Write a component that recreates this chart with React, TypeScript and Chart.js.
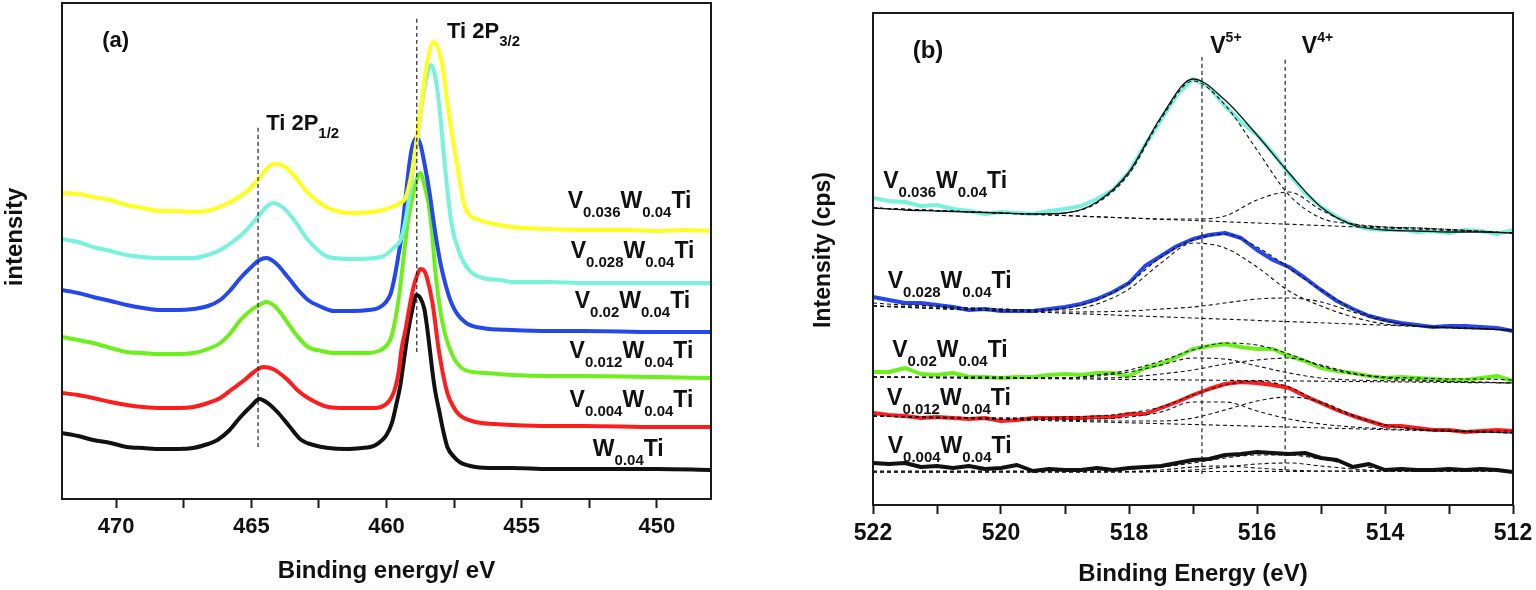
import React, { useEffect, useRef } from 'react';
import { Chart, registerables } from 'chart.js';
Chart.register(...registerables);

const FONT = 'Arial, "Liberation Sans", Helvetica, sans-serif';
const INK = '#111111';

const YELLOW = '#ffff1e';
const CYAN = '#78f2dc';
const BLUE = '#2547ee';
const GREEN = '#6cf01c';
const RED = '#ff1c1c';
const BLACK = '#111111';

// ---------------- Panel (a): Ti 2p ----------------
const yellowAE = [472, 471.4, 470.85, 470.2, 469.6, 469.0, 468.35, 467.7, 467.15, 466.5, 465.85, 465.4, 465.1, 464.7, 464.4, 464.15, 463.8, 463.5, 462.9, 462.15, 461.3, 460.3, 459.8, 459.5, 459.3, 459.05, 458.75, 458.5, 458.25, 457.95, 457.7, 457.4, 457.1, 456.55, 456.0, 455.35, 454.0, 452.7, 451.0, 450, 449, 448];
const yellowAI = [306, 305, 302, 299, 294, 291, 288, 288, 287, 289, 296, 303, 309, 321, 331, 335, 333, 326, 306, 291, 286, 288, 292, 296, 301, 329, 386, 436, 457, 436, 386, 336, 292, 279, 275, 272, 270, 269, 269, 268, 269, 268];

const cyanAE = [472, 471.4, 470.85, 470.2, 469.6, 469.0, 468.35, 467.7, 467.15, 466.5, 466.15, 465.7, 465.25, 464.7, 464.45, 464.2, 463.85, 463.5, 462.9, 462.5, 462.15, 461.2, 460.2, 459.7, 459.5, 459.35, 459.2, 459.05, 458.75, 458.55, 458.35, 458.1, 457.85, 457.6, 457.3, 456.95, 456.45, 455.8, 455.35, 454, 452.7, 451, 450, 448];
const cyanAI = [260, 257, 252, 248, 244, 242, 241, 241, 241, 245, 249, 257, 267, 284, 292, 296, 292, 282, 259, 248, 242, 240, 242, 252, 258, 272, 295, 324, 384, 419, 434, 405, 336, 276, 246, 229, 221, 219, 217, 217, 216, 216, 216, 216];

const blueAE = [472, 471.4, 470.85, 470.2, 469.6, 469.0, 468.35, 467.7, 467.15, 466.6, 466.15, 465.8, 465.4, 465.0, 464.7, 464.45, 464.1, 463.65, 463.3, 462.9, 462.4, 461.95, 461.3, 460.65, 460.3, 460.05, 459.85, 459.7, 459.55, 459.45, 459.3, 459.15, 459.05, 458.9, 458.75, 458.6, 458.4, 458.25, 458.1, 457.95, 457.6, 457.1, 456.45, 455.35, 454, 452.7, 450, 448];
const blueAI = [209, 206, 202, 198, 194, 191, 189, 189, 190, 193, 199, 208, 221, 232, 239, 241, 236, 222, 210, 199, 192, 188, 188, 189, 191, 196, 205, 222, 245, 262, 300, 336, 352, 361, 355, 336, 305, 276, 250, 229, 196, 177, 171, 169, 168, 168, 167, 167];

const greenAE = [472, 471.4, 470.85, 470.2, 469.6, 469.0, 468.35, 467.7, 467.15, 466.6, 466.15, 465.8, 465.4, 465.0, 464.7, 464.45, 464.1, 463.65, 463.3, 462.9, 462.4, 461.95, 461.3, 460.65, 460.3, 460.05, 459.85, 459.7, 459.55, 459.45, 459.35, 459.2, 459.05, 458.9, 458.75, 458.6, 458.45, 458.3, 458.2, 457.95, 457.6, 457.1, 456.35, 455.35, 454, 452.7, 450, 448];
const greenAI = [162, 159, 156, 151, 147, 146, 145, 145, 146, 150, 156, 165, 179, 189, 194, 197, 192, 176, 163, 152, 148, 146, 146, 146, 148, 152, 160, 176, 200, 222, 246, 279, 300, 318, 326, 314, 296, 262, 229, 179, 146, 129, 126, 124, 123, 123, 122, 121];

const redAE = [472, 471.4, 470.85, 470.2, 469.6, 469.0, 468.35, 467.7, 467.15, 466.6, 466.15, 465.7, 465.25, 464.9, 464.55, 464.2, 463.65, 463.3, 462.9, 462.15, 461.5, 460.9, 460.5, 460.2, 459.9, 459.7, 459.55, 459.45, 459.3, 459.15, 459.0, 458.85, 458.75, 458.6, 458.5, 458.3, 458.05, 457.75, 457.5, 457.3, 456.7, 456, 455.35, 454, 452.7, 450, 448];
const redAI = [106, 104, 101, 97, 94, 92, 91, 91, 92, 96, 101, 110, 119, 127, 132, 130, 119, 109, 101, 92, 91, 91, 91, 92, 98, 109, 127, 149, 169, 192, 212, 225, 230, 228, 221, 196, 146, 106, 91, 84, 77, 75, 74, 73, 73, 72, 72];

const blackAE = [472, 471.4, 470.85, 470.2, 469.6, 469.0, 468.35, 467.7, 467.15, 466.6, 466.25, 465.8, 465.4, 465.0, 464.7, 464.35, 464.0, 463.6, 463.15, 462.7, 462.15, 461.5, 460.9, 460.6, 460.4, 460.2, 460.0, 459.8, 459.65, 459.5, 459.35, 459.2, 459.05, 458.9, 458.75, 458.6, 458.5, 458.4, 458.3, 458.2, 458.05, 457.9, 457.75, 457.5, 457.3, 456.7, 456, 455.35, 454, 452.7, 450, 448];
const blackAI = [66, 63, 59, 56, 52, 51, 50, 50, 51, 55, 59, 69, 82, 93, 100, 95, 86, 73, 59, 54, 51, 50, 51, 52, 54, 58, 64, 76, 93, 112, 140, 168, 189, 204, 201, 190, 172, 150, 127, 108, 88, 68, 52, 42, 37, 32, 31, 31, 30, 30, 30, 29];

const ti12LineE = [464.75, 464.75];
const ti12LineI = [52, 374];
const ti32LineE = [458.88, 458.88];
const ti32LineI = [147, 482];

const ticksA = [450, 452.5, 455, 457.5, 460, 462.5, 465, 467.5, 470];

const labelPartsA = [
  ['V', '0.036', 'W', '0.04', 'Ti'],
  ['V', '0.028', 'W', '0.04', 'Ti'],
  ['V', '0.02', 'W', '0.04', 'Ti'],
  ['V', '0.012', 'W', '0.04', 'Ti'],
  ['V', '0.004', 'W', '0.04', 'Ti'],
  ['W', '0.04', 'Ti'],
];
const labelEA = [453.3, 453.19, 453.04, 453.23, 453.23, 452.37];
const labelIA = [291, 241, 191, 141, 92, 43];

// ---------------- Panel (b): V 2p3/2 ----------------
const rawEB = [522, 521.75, 521.5, 521.25, 521, 520.75, 520.5, 520.25, 520, 519.75, 519.5, 519.25, 519, 518.75, 518.5, 518.25, 518, 517.75, 517.5, 517.25, 517, 516.75, 516.5, 516.25, 516, 515.75, 515.5, 515.25, 515, 514.75, 514.5, 514.25, 514, 513.75, 513.5, 513.25, 513, 512.75, 512.5, 512.25, 512];
const fitEB = [522, 521.5, 521, 520.5, 520, 519.5, 519, 518.5, 518, 517.5, 517, 516.5, 516, 515.5, 515, 514.5, 514, 513.5, 513, 512.5, 512];
const baseEB = [522, 512];

const cyanBRaw = [307, 304, 303, 299, 300, 296, 294, 291, 293, 292, 291, 294, 296, 299, 306, 315, 333, 360, 385, 410, 426, 418, 399, 383, 370, 352, 331, 312, 298, 288, 280, 276, 275, 276, 273, 274, 272, 275, 274, 271, 275];
const cyanBFit = [297, 295, 294, 293, 292, 291, 292, 303, 333, 388, 426, 405, 370, 332, 298, 280, 275, 274, 273, 273, 272];
const cyanBBase = [297, 272];
const cyanB5E = [522, 520, 519.5, 519, 518.5, 518, 517.5, 517, 516.5, 516, 515.5, 515, 514.5, 514, 513.5, 512];
const cyanB5I = [297, 292, 291, 292, 302, 331, 386, 424, 400, 355, 310, 287, 281, 278, 277, 272];
const cyanB4E = [522, 518, 517.5, 517, 516.5, 516, 515.5, 515, 514.5, 514, 513.5, 512];
const cyanB4I = [297, 287, 286, 286, 289, 305, 313, 295, 281, 278, 277, 272];

const blueBRaw = [208, 205, 202, 202, 200, 198, 195, 196, 194, 194, 194, 196, 198, 201, 206, 213, 222, 239, 249, 259, 266, 270, 272, 267, 255, 245, 238, 227, 215, 204, 196, 189, 185, 182, 180, 178, 179, 179, 178, 177, 174];
const blueBFit = [202, 200, 199, 197, 196, 195, 197, 205, 222, 248, 265, 271, 258, 237, 215, 196, 185, 179, 177, 176, 174];
const blueBBase = [199, 175];
const blueB5E = [522, 520.5, 519.5, 519, 518.5, 518, 517.5, 517, 516.5, 516, 515.5, 515, 514.5, 514, 513.5, 513, 512];
const blueB5I = [199, 197, 195, 195, 201, 216, 242, 262, 257, 238, 214, 199, 188, 181, 179, 178, 175];
const blueB4E = [522, 520, 519, 518, 517.5, 517, 516.5, 516, 515.5, 515, 514.5, 514, 513.5, 513, 512];
const blueB4I = [199, 194, 193, 194, 196, 198, 202, 206, 207, 203, 193, 184, 179, 177, 175];

const greenBRaw = [133, 133, 137, 131, 130, 132, 128, 128, 127, 128, 128, 130, 131, 130, 132, 132, 129, 137, 141, 148, 156, 159, 161, 158, 156, 156, 149, 144, 137, 134, 132, 129, 127, 128, 127, 126, 125, 125, 127, 129, 124];
const greenBFit = [128, 128, 128, 128, 128, 127, 127, 130, 135, 144, 155, 162, 160, 151, 139, 131, 128, 127, 126, 126, 125];
const greenBBase = [128, 122];
const greenB5E = [522, 520, 519, 518.5, 518, 517.5, 517, 516.5, 516, 515.5, 515, 514.5, 513.5, 512];
const greenB5I = [128, 127, 127, 129, 133, 140, 147, 146, 139, 132, 127, 125, 124, 122];
const greenB4E = [522, 520, 518.5, 518, 517.5, 517, 516.5, 516, 515.5, 515, 514.5, 514, 513.5, 512];
const greenB4I = [128, 127, 127, 128, 131, 135, 141, 145, 147, 140, 132, 127, 125, 122];

const redBRaw = [92, 90, 89, 87, 88, 87, 86, 87, 84, 85, 87, 87, 87, 87, 88, 88, 91, 91, 97, 103, 110, 116, 121, 123, 122, 120, 117, 109, 102, 95, 89, 84, 79, 79, 77, 75, 75, 73, 74, 75, 74];
const redBFit = [89, 88, 87, 87, 87, 87, 88, 89, 92, 98, 110, 120, 124, 118, 102, 89, 80, 76, 75, 74, 74];
const redBBase = [89, 72];
const redB5E = [522, 520, 518.5, 518, 517.5, 517, 516.5, 516, 515.5, 515, 514.5, 513.5, 512];
const redB5I = [89, 87, 86, 88, 93, 103, 103, 94, 86, 81, 78, 75, 72];
const redB4E = [522, 520, 518, 517.5, 517, 516.5, 516, 515.5, 515, 514.5, 514, 513.5, 512];
const redB4I = [89, 86, 84, 84, 87, 95, 104, 108, 103, 90, 80, 76, 72];

const blackBRaw = [42, 41, 42, 38, 39, 37, 39, 36, 37, 40, 34, 36, 35, 35, 37, 35, 37, 38, 39, 42, 45, 46, 50, 51, 53, 52, 51, 52, 47, 45, 38, 41, 35, 36, 35, 35, 36, 35, 36, 35, 33];
const blackBFitE = [522, 520, 518.5, 517.5, 517, 516.5, 516, 515.5, 515, 514.5, 514, 513.5, 512];
const blackBFitI = [34, 34, 35, 38, 42, 47, 50, 50, 46, 40, 36, 34, 34];
const blackBBase = [33, 34];
const blackB5E = [522, 518.5, 517.5, 517, 516.5, 516, 515.5, 515, 512];
const blackB5I = [33, 33, 35, 38, 39, 37, 35, 34, 34];
const blackB4E = [522, 518, 517, 516.5, 516, 515.5, 515, 514.5, 514, 512];
const blackB4I = [33, 33, 35, 38, 41, 42, 39, 36, 34, 34];

const v5LineE = [516.86, 516.86];
const v5LineI = [31, 448];
const v4LineE = [515.56, 515.56];
const v4LineI = [35, 448];

const ticksB = [512, 513, 514, 515, 516, 517, 518, 519, 520, 521, 522];

const labelPartsB = [
  ['V', '0.036', 'W', '0.04', 'Ti'],
  ['V', '0.028', 'W', '0.04', 'Ti'],
  ['V', '0.02', 'W', '0.04', 'Ti'],
  ['V', '0.012', 'W', '0.04', 'Ti'],
  ['V', '0.004', 'W', '0.04', 'Ti'],
];
const labelEB = [521.84, 521.77, 521.7, 521.78, 521.77];
const labelIB = [317, 217, 148, 100, 52];

// ------------------------------------------------------
const pts = (xs: number[], ys: number[]) => {
  const n = Math.min(xs.length, ys.length);
  const out: { x: number; y: number }[] = [];
  for (let i = 0; i < n; i++) out.push({ x: xs[i], y: ys[i] });
  return out;
};

const rawLine = (xs: number[], ys: number[], color: string, smooth = true) => ({
  data: pts(xs, ys),
  borderColor: color,
  backgroundColor: color,
  borderWidth: 4,
  pointRadius: 0,
  fill: false,
  cubicInterpolationMode: smooth ? 'monotone' : 'default',
  tension: 0,
  borderJoinStyle: 'round',
  borderCapStyle: 'round',
});

const dashLine = (xs: number[], ys: number[]) => ({
  data: pts(xs, ys),
  borderColor: INK,
  borderWidth: 1.1,
  borderDash: [4, 3],
  pointRadius: 0,
  fill: false,
  cubicInterpolationMode: 'monotone',
  tension: 0,
});

const solidThin = (xs: number[], ys: number[]) => ({
  data: pts(xs, ys),
  borderColor: INK,
  borderWidth: 1.3,
  pointRadius: 0,
  fill: false,
  cubicInterpolationMode: 'monotone',
  tension: 0,
});

function drawRich(ctx: CanvasRenderingContext2D, x: number, y: number, parts: string[], mainSize: number, smallSize: number, offset: number) {
  let cx = x;
  ctx.textAlign = 'left';
  ctx.textBaseline = 'alphabetic';
  parts.forEach((p, i) => {
    const small = i % 2 === 1;
    ctx.font = `bold ${small ? smallSize : mainSize}px ${FONT}`;
    ctx.fillText(p, cx, small ? y + offset : y);
    cx += ctx.measureText(p).width;
  });
}

type Annot = { parts: string[]; e: number; v: number; main: number; small: number; off: number };

function makePlugin(annots: Annot[], yTitle: string, yTitleX: number, yTitleY: number, yTitleSize: number) {
  return {
    id: 'annot',
    afterDatasetsDraw(chart: any) {
      const { ctx, chartArea } = chart;
      const xs = chart.scales.x;
      const ys = chart.scales.y;
      ctx.save();
      ctx.strokeStyle = '#1a1a1a';
      ctx.lineWidth = 2;
      ctx.strokeRect(chartArea.left, chartArea.top, chartArea.right - chartArea.left, chartArea.bottom - chartArea.top);
      ctx.fillStyle = INK;
      annots.forEach((a) => {
        drawRich(ctx, xs.getPixelForValue(a.e), ys.getPixelForValue(a.v), a.parts, a.main, a.small, a.off);
      });
      ctx.translate(yTitleX, yTitleY);
      ctx.rotate(-Math.PI / 2);
      ctx.textAlign = 'center';
      ctx.textBaseline = 'middle';
      ctx.font = `bold ${yTitleSize}px ${FONT}`;
      ctx.fillText(yTitle, 0, 0);
      ctx.restore();
    },
  };
}

function makeOptions(min: number, max: number, yMax: number, tickVals: number[], labelEvery: number, tickSize: number, title: string, axisH: number, pad: any, titlePadBottom: number) {
  return {
    animation: false,
    responsive: false,
    events: [],
    layout: { padding: pad },
    plugins: { legend: { display: false }, tooltip: { enabled: false } },
    scales: {
      x: {
        type: 'linear',
        min,
        max,
        reverse: true,
        afterBuildTicks: (s: any) => {
          s.ticks = tickVals.map((v) => ({ value: v }));
        },
        afterFit: (s: any) => {
          s.height = axisH;
        },
        grid: { drawOnChartArea: false, drawTicks: true, tickLength: 9, tickWidth: 2, tickColor: '#1a1a1a' },
        border: { display: false },
        ticks: {
          autoSkip: false,
          maxRotation: 0,
          padding: 6,
          color: INK,
          font: { family: FONT, size: tickSize, weight: 'bold' },
          callback: (v: number) => (Math.abs(v / labelEvery - Math.round(v / labelEvery)) < 1e-6 ? String(v) : ''),
        },
        title: {
          display: true,
          text: title,
          color: INK,
          font: { family: FONT, size: 24, weight: 'bold' },
          padding: { top: 0, bottom: titlePadBottom },
        },
      },
      y: { type: 'linear', display: false, min: 0, max: yMax },
    },
  };
}

export default function App() {
  const refA = useRef<HTMLCanvasElement>(null);
  const refB = useRef<HTMLCanvasElement>(null);

  useEffect(() => {
    document.body.style.margin = '0';
    const annotsA: Annot[] = [
      ...labelPartsA.map((p, i) => ({ parts: p, e: labelEA[i], v: labelIA[i], main: 23, small: 15, off: 9 })),
      { parts: ['(a)'], e: 470.51, v: 452, main: 22, small: 15, off: 0 },
      { parts: ['Ti 2P', '1/2'], e: 464.45, v: 369, main: 22, small: 15, off: 8 },
      { parts: ['Ti 2P', '3/2'], e: 457.76, v: 461, main: 22, small: 15, off: 8 },
    ];
    const annotsB: Annot[] = [
      ...labelPartsB.map((p, i) => ({ parts: p, e: labelEB[i], v: labelIB[i], main: 23, small: 15, off: 9 })),
      { parts: ['(b)'], e: 521.38, v: 447, main: 24, small: 15, off: 0 },
      { parts: ['V', '5+'], e: 516.73, v: 452, main: 23, small: 14, off: -11 },
      { parts: ['V', '4+'], e: 515.3, v: 452, main: 23, small: 14, off: -11 },
    ];

    const chartA = new Chart(refA.current as HTMLCanvasElement, {
      type: 'line',
      data: {
        datasets: [
          dashLine(ti12LineE, ti12LineI),
          dashLine(ti32LineE, ti32LineI),
          rawLine(yellowAE, yellowAI, YELLOW),
          rawLine(cyanAE, cyanAI, CYAN),
          rawLine(blueAE, blueAI, BLUE),
          rawLine(greenAE, greenAI, GREEN),
          rawLine(redAE, redAI, RED),
          rawLine(blackAE, blackAI, BLACK),
        ] as any,
      },
      options: makeOptions(448, 472, 496, ticksA, 5, 22, 'Binding energy/ eV', 91, { left: 62, top: 3, right: 49, bottom: 0 }, 4) as any,
      plugins: [makePlugin(annotsA, 'intensity', 15, 237, 24)],
    });

    const chartB = new Chart(refB.current as HTMLCanvasElement, {
      type: 'line',
      data: {
        datasets: [
          dashLine(v5LineE, v5LineI),
          dashLine(v4LineE, v4LineI),
          solidThin(fitEB, cyanBFit),
          dashLine(baseEB, cyanBBase),
          dashLine(cyanB5E, cyanB5I),
          dashLine(cyanB4E, cyanB4I),
          dashLine(fitEB, blueBFit),
          dashLine(baseEB, blueBBase),
          dashLine(blueB5E, blueB5I),
          dashLine(blueB4E, blueB4I),
          dashLine(fitEB, greenBFit),
          dashLine(baseEB, greenBBase),
          dashLine(greenB5E, greenB5I),
          dashLine(greenB4E, greenB4I),
          dashLine(fitEB, redBFit),
          dashLine(baseEB, redBBase),
          dashLine(redB5E, redB5I),
          dashLine(redB4E, redB4I),
          dashLine(blackBFitE, blackBFitI),
          dashLine(baseEB, blackBBase),
          dashLine(blackB5E, blackB5I),
          dashLine(blackB4E, blackB4I),
          rawLine(rawEB, cyanBRaw, CYAN, false),
          rawLine(rawEB, blueBRaw, BLUE, false),
          rawLine(rawEB, greenBRaw, GREEN, false),
          rawLine(rawEB, redBRaw, RED, false),
          rawLine(rawEB, blackBRaw, BLACK, false),
        ] as any,
      },
      options: makeOptions(512, 522, 492, ticksB, 2, 23, 'Binding Energy (eV)', 85, { left: 113, top: 13, right: 23, bottom: 0 }, 1) as any,
      plugins: [makePlugin(annotsB, 'Intensity (cps)', 64, 250, 23)],
    });

    return () => {
      chartA.destroy();
      chartB.destroy();
    };
  }, []);

  return (
    <div style={{ position: 'relative', width: 1536, height: 590, background: '#fff', overflow: 'hidden' }}>
      <canvas ref={refA} width={760} height={590} style={{ position: 'absolute', left: 0, top: 0, width: 760, height: 590 }} />
      <canvas ref={refB} width={776} height={590} style={{ position: 'absolute', left: 760, top: 0, width: 776, height: 590 }} />
    </div>
  );
}
